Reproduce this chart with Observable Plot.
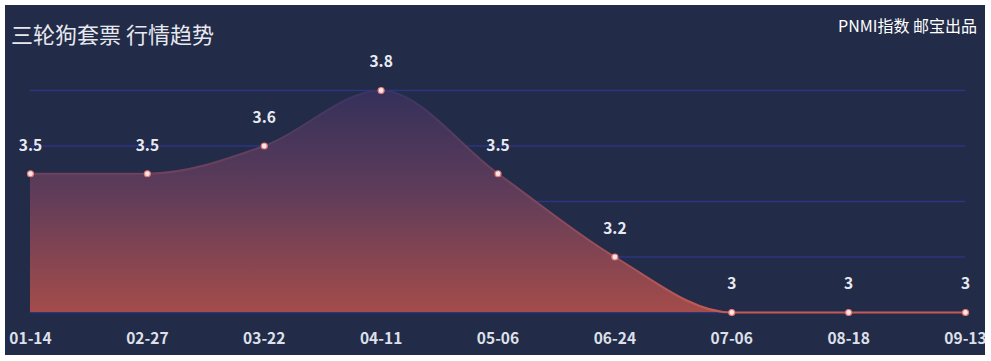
<!DOCTYPE html>
<html>
<head>
<meta charset="utf-8">
<script src="https://cdn.jsdelivr.net/npm/d3@7"></script>
<script src="https://cdn.jsdelivr.net/npm/@observablehq/plot@0.6"></script>
<style>
  html, body { margin: 0; padding: 0; background: #ffffff; }
  #wrap { position: relative; width: 991px; height: 361px; background: #ffffff; overflow: hidden; }
  #panel { position: absolute; left: 5px; top: 5px; width: 980px; height: 350px; background: #222b47; overflow: hidden; font-family: "Noto Sans CJK SC", "Noto Sans", sans-serif; }
  #title { position: absolute; left: 6px; top: 12px; font-size: 22px; color: #e6e8f0; }
  #brand { position: absolute; right: 8px; top: 8px; font-size: 16px; color: #ffffff; }
  #chart { position: absolute; left: 0; top: 0; }
</style>
</head>
<body>
<div id="wrap"><div id="panel">
  <div id="chart"></div>
  <div id="title">三轮狗套票 行情趋势</div>
  <div id="brand">PNMI指数 邮宝出品</div>
</div></div>
<script>
const dates = ["01-14", "02-27", "03-22", "04-11", "05-06", "06-24", "07-06", "08-18", "09-13"];
const values = [3.5, 3.5, 3.6, 3.8, 3.5, 3.2, 3, 3, 3];
const gridTicks = [3.0, 3.2, 3.4, 3.6, 3.8];

const data = dates.map((d, i) => ({date: d, value: values[i]}));

const defs = () => {
  const g = d3.create("svg:defs");
  const a = g.append("linearGradient").attr("id", "areaGrad").attr("x1", 0).attr("y1", 0).attr("x2", 0).attr("y2", 1);
  a.append("stop").attr("offset", "0%").attr("stop-color", "#34305a");
  a.append("stop").attr("offset", "45%").attr("stop-color", "#5e3c5a");
  a.append("stop").attr("offset", "100%").attr("stop-color", "#a44c4a");
  const l = g.append("linearGradient").attr("id", "lineGrad").attr("x1", 0).attr("y1", 0).attr("x2", 0).attr("y2", 1);
  l.append("stop").attr("offset", "0%").attr("stop-color", "#3a3462");
  l.append("stop").attr("offset", "100%").attr("stop-color", "#c45a55");
  return g.node();
};

const chart = Plot.plot({
  width: 980,
  height: 350,
  marginLeft: 25,
  marginRight: 20,
  marginTop: 85,
  marginBottom: 43,
  style: { background: "transparent", fontFamily: "\"Noto Sans CJK SC\", \"Noto Sans\", sans-serif" },
  x: { type: "point", domain: dates, padding: 0, round: false, label: null },
  y: { domain: [3.0, 3.8], axis: null },
  marks: [
    defs,
    Plot.ruleY(gridTicks, { stroke: "#2d3580", strokeWidth: 1.3 }),
    Plot.areaY(data, { x: "date", y1: 3.0, y2: "value", curve: "monotone-x", fill: "url(#areaGrad)" }),
    Plot.lineY(data, { x: "date", y: "value", curve: "monotone-x", stroke: "url(#lineGrad)", strokeWidth: 2 }),
    Plot.dot(data, { x: "date", y: "value", r: 3, fill: "#ffe6e6", stroke: "#e57a78", strokeWidth: 1.2 }),
    Plot.text(data, { x: "date", y: "value", text: d => String(d.value), dy: -28, fill: "#e8eaf2", fontSize: 15.5, fontWeight: 600 }),
    Plot.axisX({ tickSize: 0, tickPadding: 20, fontSize: 15.5, fill: "#dde0ea", label: null, fontWeight: 600 })
  ]
});
document.getElementById("chart").appendChild(chart);
</script>
</body>
</html>
